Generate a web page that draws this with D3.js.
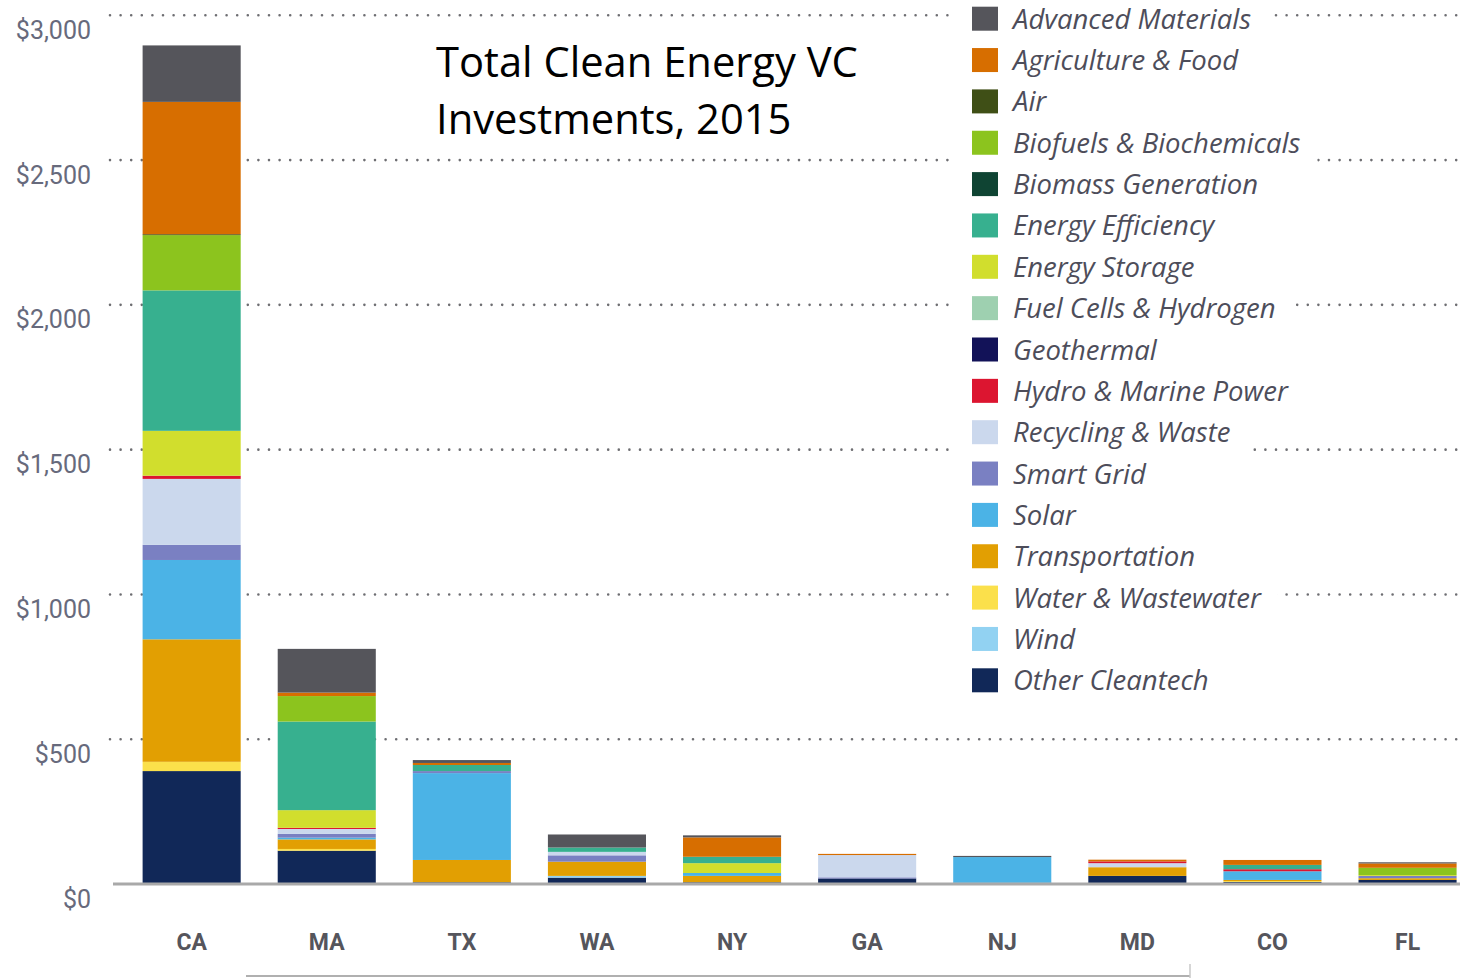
<!DOCTYPE html>
<html>
<head>
<meta charset="utf-8">
<script src="https://cdn.jsdelivr.net/npm/d3@7"></script>
<style>
  html, body { margin: 0; padding: 0; background: #fff; }
  svg { display: block; }
</style>
</head>
<body>
<script>
// ---------------- DATA ----------------
const states = ["CA", "MA", "TX", "WA", "NY", "GA", "NJ", "MD", "CO", "FL"];
const yTicks = [0, 500, 1000, 1500, 2000, 2500, 3000];
const titleLines = ["Total Clean Energy VC", "Investments, 2015"];

// legend order (top to bottom)
const seriesNames = [
  "Advanced Materials", "Agriculture & Food", "Air", "Biofuels & Biochemicals",
  "Biomass Generation", "Energy Efficiency", "Energy Storage", "Fuel Cells & Hydrogen",
  "Geothermal", "Hydro & Marine Power", "Recycling & Waste", "Smart Grid", "Solar",
  "Transportation", "Water & Wastewater", "Wind", "Other Cleantech"
];
const seriesColors = [
  "#55555b", "#d76e00", "#3f4f16", "#8cc41e",
  "#0f4433", "#37b08f", "#d1de2d", "#9ed0b0",
  "#121258", "#dc1530", "#cbd8ed", "#7a80c2", "#4bb3e6",
  "#e29f02", "#fbe04b", "#92d2f2", "#112858"
];

// values in $ millions, per state (CA, MA, TX, WA, NY, GA, NJ, MD, CO, FL)
const advancedMaterials = [195, 151, 10, 45, 7, 0, 4, 0, 0, 4];
const agricultureFood   = [457, 12, 7, 0, 67, 4, 0, 6, 17, 15];
const air               = [3, 0, 0, 0, 0, 0, 0, 0, 0, 0];
const biofuels          = [191, 88, 0, 0, 0, 0, 0, 0, 0, 25];
const biomass           = [0, 0, 0, 0, 0, 0, 0, 0, 0, 0];
const energyEfficiency  = [485, 306, 21, 15, 22, 0, 0, 0, 15, 0];
const energyStorage     = [155, 61, 0, 0, 34, 0, 0, 0, 0, 3];
const fuelCells         = [0, 0, 0, 0, 0, 0, 0, 0, 0, 0];
const geothermal        = [0, 0, 0, 0, 0, 0, 0, 0, 0, 0];
const hydroMarine       = [11, 4, 0, 0, 0, 0, 0, 6, 7, 0];
const recyclingWaste    = [228, 17, 0, 12, 0, 77, 0, 14, 0, 0];
const smartGrid         = [52, 13, 7, 22, 0, 4, 0, 0, 0, 8];
const solar             = [274, 6, 300, 0, 10, 0, 89, 0, 30, 0];
const transportation    = [423, 33, 77, 49, 22, 0, 0, 30, 4, 6];
const waterWastewater   = [32, 6, 0, 0, 0, 0, 0, 0, 3, 0];
const wind              = [0, 0, 0, 6, 0, 0, 0, 0, 0, 0];
const otherCleantech    = [390, 115, 6, 22, 6, 19, 4, 28, 7, 14];

const seriesValues = [
  advancedMaterials, agricultureFood, air, biofuels, biomass, energyEfficiency,
  energyStorage, fuelCells, geothermal, hydroMarine, recyclingWaste, smartGrid,
  solar, transportation, waterWastewater, wind, otherCleantech
];

// ---------------- CHART ----------------
const W = 1462, H = 978;
const svg = d3.select("body").append("svg").attr("width", W).attr("height", H);

const y = d3.scaleLinear().domain([0, 3000]).range([884, 15.3]);
const x = d3.scaleBand().domain(states).range([124.1, 1475.1])
  .paddingInner(0.274).paddingOuter(0.137);

const color = d3.scaleOrdinal().domain(seriesNames).range(seriesColors);

// table for stacking
const table = states.map((s, i) => {
  const row = { state: s };
  seriesNames.forEach((n, k) => { row[n] = seriesValues[k][i]; });
  return row;
});
const stackKeys = seriesNames.slice().reverse(); // bottom = Other Cleantech
const stacked = d3.stack().keys(stackKeys)(table);

// dotted gridlines
svg.append("g").selectAll("line")
  .data(yTicks.filter(d => d > 0))
  .join("line")
  .attr("x1", 110).attr("x2", 1460)
  .attr("y1", d => y(d)).attr("y2", d => y(d))
  .attr("stroke", "#6e6e72")
  .attr("stroke-width", 2.6)
  .attr("stroke-linecap", "round")
  .attr("stroke-dasharray", "0 10.6");

// bars
svg.append("g").selectAll("g")
  .data(stacked)
  .join("g")
  .attr("fill", d => color(d.key))
  .selectAll("rect")
  .data(d => d.filter(p => p[1] - p[0] > 0))
  .join("rect")
  .attr("x", d => x(d.data.state))
  .attr("width", x.bandwidth())
  .attr("y", d => y(d[1]))
  .attr("height", d => y(d[0]) - y(d[1]));

// baseline
svg.append("line")
  .attr("x1", 113).attr("x2", 1460)
  .attr("y1", y(0)).attr("y2", y(0))
  .attr("stroke", "#a9a9a9").attr("stroke-width", 3);

// y axis labels
const yAxis = svg.append("g")
  .attr("transform", "translate(94,0)")
  .call(d3.axisLeft(y).tickValues(yTicks).tickSize(0)
    .tickFormat(d => "$" + d3.format(",")(d)));
yAxis.select(".domain").remove();
yAxis.selectAll("text")
  .attr("dy", 23)
  .attr("font-family", "Roboto, 'Liberation Sans', sans-serif")
  .attr("font-size", 25)
  .attr("fill", "#676a7c");

// x axis labels
const xAxis = svg.append("g")
  .attr("transform", `translate(0,${y(0)})`)
  .call(d3.axisBottom(x).tickSize(0));
xAxis.select(".domain").remove();
xAxis.selectAll("text")
  .attr("y", 66).attr("dy", 0)
  .attr("font-family", "Roboto, 'Liberation Sans', sans-serif")
  .attr("font-weight", "bold")
  .attr("font-size", 23)
  .attr("fill", "#55555c");

// bottom frame line (from source slide)
svg.append("line")
  .attr("x1", 246).attr("x2", 1190).attr("y1", 976).attr("y2", 976)
  .attr("stroke", "#b0b0b0").attr("stroke-width", 2);
svg.append("line")
  .attr("x1", 1190).attr("x2", 1190).attr("y1", 964).attr("y2", 978)
  .attr("stroke", "#c8c8c8").attr("stroke-width", 1.5);

// legend
const legTop = 6.7, legStep = 41.35;
const leg = svg.append("g");
const items = leg.selectAll("g")
  .data(seriesNames)
  .join("g")
  .attr("transform", (d, i) => `translate(0,${legTop + i * legStep})`);
const bg = items.append("rect")
  .attr("x", 952).attr("y", -4).attr("height", legStep)
  .attr("fill", "#fff");
items.append("rect")
  .attr("x", 972).attr("y", 0).attr("width", 26).attr("height", 24)
  .attr("fill", d => color(d));
const ltxt = items.append("text")
  .attr("x", 1013).attr("y", 22)
  .attr("font-family", "'Open Sans', 'Noto Sans', sans-serif")
  .attr("font-style", "italic")
  .attr("font-size", 27.5)
  .attr("fill", "#4d4d5a")
  .text(d => d);
ltxt.each(function(d, i) {
  const w = this.getComputedTextLength();
  d3.select(bg.nodes()[i]).attr("width", 1013 + w + 17 - 952);
});

// title
const title = svg.append("g");
const t1 = title.append("text")
  .attr("x", 436).attr("y", 77)
  .attr("font-family", "'Open Sans', 'Noto Sans', sans-serif")
  .attr("font-size", 40)
  .attr("fill", "#000")
  .text(titleLines[0]);
const fs = 40 * 422 / t1.node().getComputedTextLength();
t1.attr("font-size", fs);
title.append("text")
  .attr("x", 436).attr("y", 134)
  .attr("font-family", "'Open Sans', 'Noto Sans', sans-serif")
  .attr("font-size", fs)
  .attr("fill", "#000")
  .text(titleLines[1]);
</script>
</body>
</html>
